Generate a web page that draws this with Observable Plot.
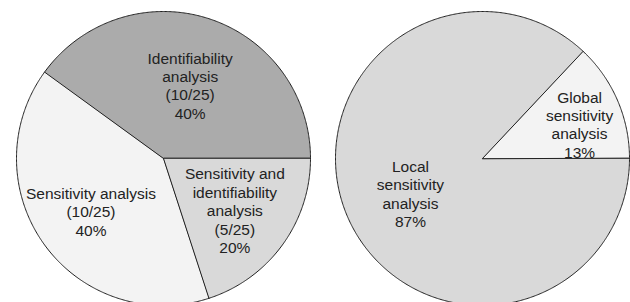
<!DOCTYPE html>
<html>
<head>
<meta charset="utf-8">
<script src="https://cdn.jsdelivr.net/npm/d3@7"></script>
<script src="https://cdn.jsdelivr.net/npm/@observablehq/plot@0.6"></script>
<style>
  html, body { margin: 0; padding: 0; background: #fff; overflow: hidden; }
  svg { display: block; }
</style>
</head>
<body>
<div id="chart"></div>
<script>
// Left pie: study types
const leftNames = ["Identifiability\nanalysis", "Sensitivity analysis", "Sensitivity and\nidentifiability\nanalysis"];
const leftCounts = [10, 10, 5];
const leftTotal = 25;
const leftColors = ["#ababab", "#f3f3f3", "#d9d9d9"];

// Right pie: sensitivity analysis types (percent)
const rightNames = ["Global\nsensitivity\nanalysis", "Local\nsensitivity\nanalysis"];
const rightPercents = [13, 87];
const rightColors = ["#f3f3f3", "#d9d9d9"];

// Layout constants (label placement: radius fraction, angle shift in degrees)
const W = 630, H = 302;
const R = 147;
const leftLabelPlace = [[0.53, -2], [0.61, 0], [0.6, 0]];
const rightLabelPlace = [[0.70, -4], [0.545, 2.5]];

const pies = [
  {id: "L", cx: 163, cy: 158, values: leftCounts, colors: leftColors, place: leftLabelPlace,
   label: (i) => `${leftNames[i]}\n(${leftCounts[i]}/${leftTotal})\n${Math.round(leftCounts[i] / leftTotal * 100)}%`},
  {id: "R", cx: 482, cy: 158, values: rightPercents, colors: rightColors, place: rightLabelPlace,
   label: (i) => `${rightNames[i]}\n${rightPercents[i]}%`}
];

const polyPts = [];
const labels = [];
for (const p of pies) {
  const total = d3.sum(p.values);
  let a = 0;
  p.values.forEach((v, i) => {
    const a0 = a, a1 = a + v / total * 2 * Math.PI;
    a = a1;
    const key = p.id + i;
    polyPts.push({key, color: p.colors[i], x: p.cx, y: p.cy});
    const n = Math.max(2, Math.ceil((a1 - a0) / (Math.PI / 360)));
    for (let k = 0; k <= n; k++) {
      const t = a0 + (a1 - a0) * k / n;
      polyPts.push({key, color: p.colors[i], x: p.cx + R * Math.cos(t), y: p.cy - R * Math.sin(t)});
    }
    const [rf, da] = p.place[i];
    const m = (a0 + a1) / 2 + da * Math.PI / 180;
    labels.push({x: p.cx + rf * R * Math.cos(m), y: p.cy - rf * R * Math.sin(m), text: p.label(i)});
  });
}

const chart = Plot.plot({
  width: W,
  height: H,
  margin: 0,
  x: {domain: [0, W], range: [0, W], axis: null},
  y: {domain: [0, H], range: [0, H], axis: null},
  style: {fontFamily: "'Liberation Sans', Arial, sans-serif", background: "#fff"},
  marks: [
    Plot.line(polyPts, {x: "x", y: "y", z: "key", fill: "color", stroke: "#222", strokeWidth: 1, curve: "linear-closed"}),
    Plot.text(labels, {x: "x", y: "y", text: "text", fontSize: 15.5, lineHeight: 1.19, fill: "#222", textAnchor: "middle"})
  ]
});
document.getElementById("chart").appendChild(chart);
</script>
</body>
</html>
